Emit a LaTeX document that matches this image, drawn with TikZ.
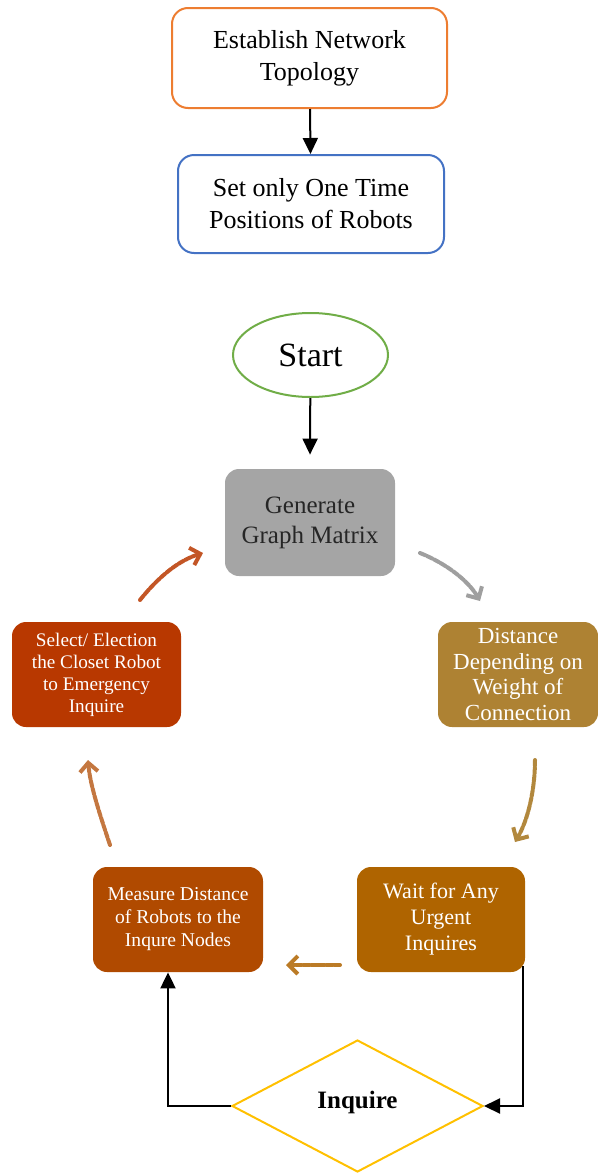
\documentclass[tikz,border=0pt]{standalone}
\usepackage{fontspec}
\setmainfont{Liberation Serif}
\usetikzlibrary{shapes.geometric,arrows.meta}

\definecolor{estorange}{HTML}{ED7D31}
\definecolor{posblue}{HTML}{4472C4}
\definecolor{startgreen}{HTML}{70AD47}
\definecolor{gengray}{HTML}{A5A5A5}
\definecolor{distgold}{HTML}{AE8233}
\definecolor{selred}{HTML}{B83800}
\definecolor{waitbrown}{HTML}{AF6400}
\definecolor{measbrown}{HTML}{B04A00}
\definecolor{inqyellow}{HTML}{FFC000}

\begin{document}
\begin{tikzpicture}[x=0.5pt,y=-0.5pt,>={Triangle[length=8pt,width=7.5pt]},
   box/.style={draw,line width=1pt,rounded corners=8pt,align=center,inner sep=1pt,font=\fontsize{13}{16}\selectfont},
   fillbox/.style={fill=#1,rounded corners=7pt,align=center,inner sep=1pt,text=white,minimum height=52.5pt},
   sketch/.style={draw=#1,line width=2pt,line cap=round,dash pattern=on 3pt off 0.8pt,-{Straight Barb[length=4.5pt,width=9pt]}},
   link/.style={line width=1pt,->}]
   \useasboundingbox (0,0) rectangle (598,1173);

   % 準備
   \node [box,draw=estorange,minimum width=137.5pt,minimum height=50pt] (est) at (309.5,58) {Establish Network\\Topology};
   \node [box,draw=posblue,minimum width=133pt,minimum height=49pt] (pos) at (311,204) {Set only One Time\\Positions of Robots};
   \draw [link] (est) -- (pos);

   % 開始
   \node [draw=startgreen,line width=1pt,ellipse,minimum width=77.5pt,minimum height=42pt,font=\fontsize{17}{20}\selectfont] (start) at (310.5,355) {Start};

   % サイクル
   \node [fillbox=gengray,text=black!85,minimum width=85pt,minimum height=53.5pt,font=\fontsize{12.5}{15}\selectfont] (gen) at (310,522.5) {Generate\\Graph Matrix};
   \node [fillbox=distgold,minimum width=80pt,font=\fontsize{11.5}{12.8}\selectfont] (dist) at (518,674.5) {Distance\\Depending on\\Weight of\\Connection};
   \node [fillbox=waitbrown,minimum width=84pt,font=\fontsize{11}{13}\selectfont] (wait) at (441,919.5) {Wait for Any\\Urgent\\Inquires};
   \node [fillbox=measbrown,minimum width=85pt,font=\fontsize{9.8}{11.5}\selectfont] (meas) at (178,919.5) {Measure Distance\\of Robots to the\\Inqure Nodes};
   \node [fillbox=selred,minimum width=84.5pt,font=\fontsize{9.6}{11}\selectfont] (sel) at (96.5,674.5) {Select/ Election\\the Closet Robot\\to Emergency\\Inquire};
   \draw [link] (start) -- ([yshift=7pt]gen.north);

   \draw [sketch=gray!75] (420,553) .. controls (445,563) and (468,580) .. (480,601);
   \draw [sketch=distgold!95] (535,760) .. controls (535,790) and (528,820) .. (515,842);
   \draw [sketch=waitbrown!85!white] (340,965) -- (286,965);
   \draw [sketch=measbrown!75!white] (110,845) .. controls (100,815) and (90,785) .. (88,760);
   \draw [sketch=selred!85!white] (140,600) .. controls (160,575) and (180,560) .. (203,553);

   % 判定
   \node [draw=inqyellow,line width=1pt,diamond,aspect=1.9,inner sep=0pt,minimum width=125.5pt,minimum height=66pt,font=\bfseries\fontsize{12.5}{15}\selectfont] (inq) at (357.5,1106) {\raisebox{6.5pt}{Inquire}};
   \draw [link] ([xshift=-1pt,yshift=3pt]wait.south east) |- (inq.east);
   \draw [link] (inq.west) -| ([xshift=-5pt]meas.south);

\end{tikzpicture}
\end{document}
